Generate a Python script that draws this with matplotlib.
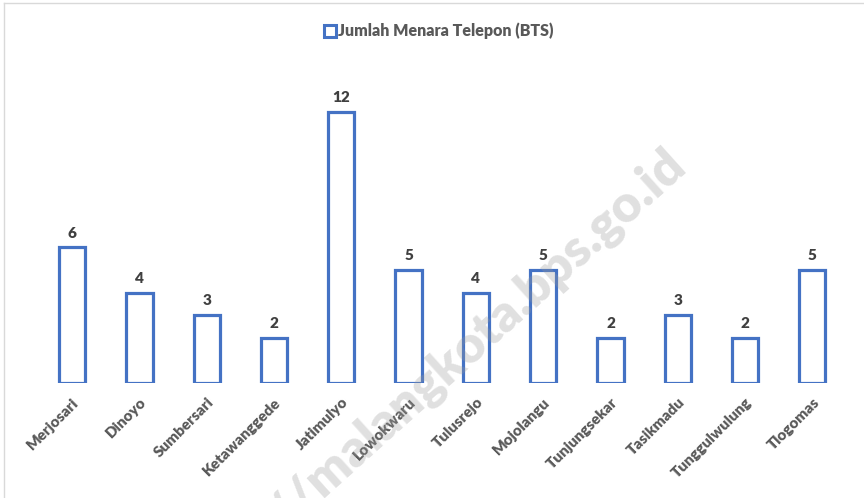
import numpy as np
import matplotlib.pyplot as plt
from matplotlib.lines import Line2D

# Jumlah menara telepon (BTS) per kelurahan
kelurahan = ['Merjosari', 'Dinoyo', 'Sumbersari', 'Ketawanggede', 'Jatimulyo',
             'Lowokwaru', 'Tulusrejo', 'Mojolangu', 'Tunjungsekar', 'Tasikmadu',
             'Tunggulwulung', 'Tlogomas']
jumlah_bts = [6, 4, 3, 2, 12, 5, 4, 5, 2, 3, 2, 5]

biru = '#4472C4'
abu = '#595959'
plt.rcParams['font.family'] = ['Lato', 'DejaVu Sans']

fig = plt.figure(figsize=(8.64, 4.98), dpi=100)
ax = fig.add_axes([38.5 / 864, 1 - 383 / 498, (846 - 38.5) / 864, (383 - 78) / 498])

x = np.arange(len(kelurahan))
bars = ax.bar(x, jumlah_bts, width=0.39, facecolor='white', edgecolor=biru,
              linewidth=2.3, label='Jumlah Menara Telepon (BTS)', zorder=3)

for xi, v in zip(x, jumlah_bts):
    ax.text(xi, v + 0.35, str(v), ha='center', va='bottom', fontsize=11,
            fontweight='heavy', color='#404040', zorder=4)

ax.set_xlim(-0.5, len(kelurahan) - 0.5)
ax.set_ylim(0, 13.5)
ax.set_xticks(x)
ax.set_xticklabels(kelurahan, rotation=45, ha='right', rotation_mode='anchor',
                   fontsize=11, fontweight='heavy', color=abu)
ax.tick_params(axis='x', length=0, pad=9)
ax.set_yticks([])
for s in ax.spines.values():
    s.set_visible(False)

handle = Line2D([], [], marker='s', linestyle='none', markersize=8,
                markerfacecolor='white', markeredgecolor=biru, markeredgewidth=2.2)
fig.legend([handle], ['Jumlah Menara Telepon (BTS)'], loc='center',
           bbox_to_anchor=(438 / 864, 1 - 31 / 498), frameon=False,
           handletextpad=0.0, handlelength=1.0,
           prop={'size': 11.5, 'weight': 'heavy'}, labelcolor=abu)

# watermark
fig.text(688 / 864, 1 - 168 / 498, 'https://malangkota.bps.go.id', fontsize=37,
         fontweight='heavy', color='#9a9a9a', rotation=42, rotation_mode='anchor',
         ha='right', va='baseline', zorder=10, alpha=0.3)

# chart frame (top and left edges)
fig.add_artist(Line2D([4 / 864, 1], [1 - 3 / 498, 1 - 3 / 498],
                      color='#d9d9d9', linewidth=1, transform=fig.transFigure))
fig.add_artist(Line2D([4 / 864, 4 / 864], [0, 1 - 3 / 498],
                      color='#d9d9d9', linewidth=1, transform=fig.transFigure))

fig.savefig('out.png', dpi=100)
